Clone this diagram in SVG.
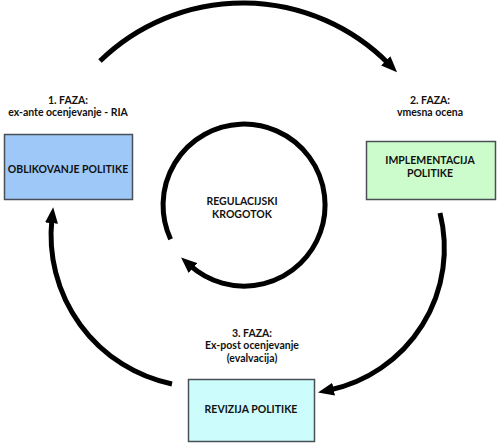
<svg xmlns="http://www.w3.org/2000/svg" width="500" height="446" viewBox="0 0 500 446">
<style>
.t{font-family:Lato,"Liberation Sans",sans-serif;font-weight:bold;font-size:10.5px;fill:#111;text-anchor:middle}
.box{stroke:#4a4f57;stroke-width:1.5}
.arc{fill:none;stroke:#000;stroke-width:5}
</style>
<defs>
<marker id="ah" viewBox="0 0 16 13" refX="4" refY="6.5" markerWidth="16" markerHeight="13" markerUnits="userSpaceOnUse" orient="auto">
<path d="M0,0 L16,6.5 L0,13 z" fill="#000"/>
</marker>
</defs>
<rect width="500" height="446" fill="#fff"/>
<g id="connectors">
<path class="arc" marker-end="url(#ah)" d="M100,61 A205,205 0 0 1 388.6,63.7"/>
<path class="arc" marker-end="url(#ah)" d="M440,213 A145,145 0 0 1 329.7,390"/>
<path class="arc" marker-end="url(#ah)" d="M172,384 A152,152 0 0 1 51.9,219.1"/>
<path class="arc" marker-end="url(#ah)" d="M170.6,239.2 A81,81 0 1 1 190,265.4"/>
</g>
<g id="faza1">
<text class="t" x="68" y="104">1. FAZA:</text>
<text class="t" x="68" y="116">ex-ante ocenjevanje - RIA</text>
</g>
<g id="oblikovanje">
<rect class="box" x="4.5" y="134.5" width="128" height="65" fill="#9dc8f8" stroke="#3c5a80"/>
<text class="t" x="68" y="172.5">OBLIKOVANJE POLITIKE</text>
</g>
<g id="faza2">
<text class="t" x="430" y="104">2. FAZA:</text>
<text class="t" x="430" y="116">vmesna ocena</text>
</g>
<g id="implementacija">
<rect class="box" x="366.5" y="141.5" width="129" height="58" fill="#ccfccc"/>
<text class="t" x="430" y="164">IMPLEMENTACIJA</text>
<text class="t" x="430" y="176.5">POLITIKE</text>
</g>
<g id="faza3">
<text class="t" x="252" y="336.5">3. FAZA:</text>
<text class="t" x="252" y="349">Ex-post ocenjevanje</text>
<text class="t" x="252" y="361.5">(evalvacija)</text>
</g>
<g id="revizija">
<rect class="box" x="188.5" y="379.5" width="126" height="62" fill="#ccfcfc"/>
<text class="t" x="251" y="413">REVIZIJA POLITIKE</text>
</g>
<g id="krogotok">
<text class="t" x="242" y="205">REGULACIJSKI</text>
<text class="t" x="242" y="218">KROGOTOK</text>
</g>
</svg>
